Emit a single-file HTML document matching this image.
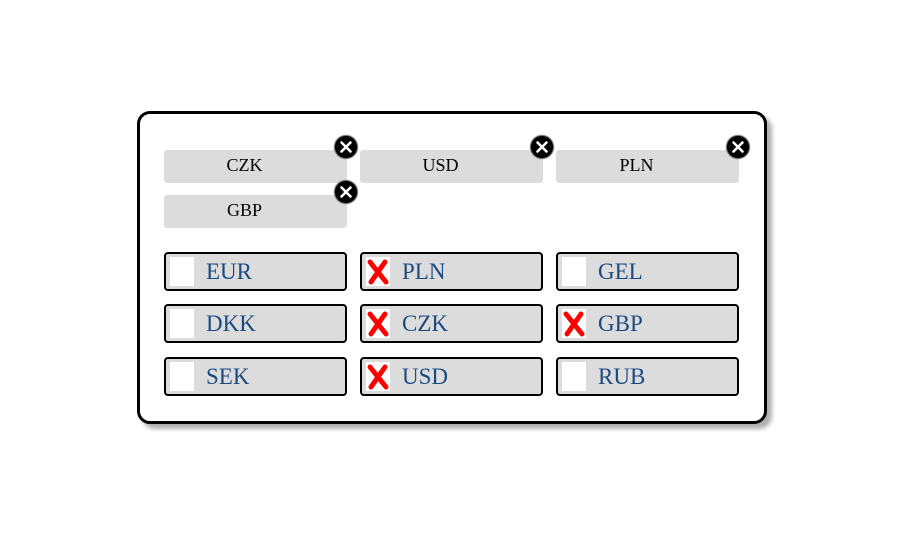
<!DOCTYPE html>
<html><head><meta charset="utf-8"><style>
html,body{margin:0;padding:0;background:#fff;width:916px;height:546px;overflow:hidden;position:relative;font-family:"Liberation Serif",serif}
.panel{position:absolute;left:137px;top:111px;width:624px;height:307px;border:3px solid #000;border-radius:13px;background:#fff;box-shadow:5px 5px 4px #b0b0b0}
.tag{position:absolute;width:161px;padding-right:22px;height:33px;background:#dcdcdc;border-radius:3px;text-align:center;line-height:31px;font-size:18px;color:#000}
.cl{position:absolute;width:22px;height:22px;border-radius:50%;background:#000;box-shadow:0 0 1px 1px #555}
.cl svg{position:absolute;left:0;top:0}
.cb{position:absolute;width:179px;height:35px;border:2px solid #000;border-radius:4px;background:#dcdcdc}
.cb .bx{position:absolute;left:4px;top:3px;width:24px;height:29px;background:#fff}
.cb .bx svg{position:absolute;left:0;top:2px}
.cb span{position:absolute;left:40px;top:4px;font-size:23px;line-height:28px;color:#1a4a80}
</style></head><body>
<div class="panel"></div>

<div class="tag" style="left:164px;top:150px">CZK</div>
<div class="tag" style="left:360px;top:150px">USD</div>
<div class="tag" style="left:556px;top:150px">PLN</div>
<div class="tag" style="left:164px;top:195px">GBP</div>

<div class="cl" style="left:335px;top:136px"><svg width="22" height="22"><path d="M6.5 6.5L15.5 15.5M15.5 6.5L6.5 15.5" stroke="#fff" stroke-width="2.6" stroke-linecap="round"/></svg></div>
<div class="cl" style="left:531px;top:136px"><svg width="22" height="22"><path d="M6.5 6.5L15.5 15.5M15.5 6.5L6.5 15.5" stroke="#fff" stroke-width="2.6" stroke-linecap="round"/></svg></div>
<div class="cl" style="left:727px;top:136px"><svg width="22" height="22"><path d="M6.5 6.5L15.5 15.5M15.5 6.5L6.5 15.5" stroke="#fff" stroke-width="2.6" stroke-linecap="round"/></svg></div>
<div class="cl" style="left:335px;top:181px"><svg width="22" height="22"><path d="M6.5 6.5L15.5 15.5M15.5 6.5L6.5 15.5" stroke="#fff" stroke-width="2.6" stroke-linecap="round"/></svg></div>

<div class="cb" style="left:164px;top:252px"><div class="bx"></div><span>EUR</span></div>
<div class="cb" style="left:360px;top:252px"><div class="bx"><svg width="24" height="26"><path d="M4 3L20 23M19 3L5 23" stroke="#f00" stroke-width="5" stroke-linecap="round"/></svg></div><span>PLN</span></div>
<div class="cb" style="left:556px;top:252px"><div class="bx"></div><span>GEL</span></div>

<div class="cb" style="left:164px;top:304px"><div class="bx"></div><span>DKK</span></div>
<div class="cb" style="left:360px;top:304px"><div class="bx"><svg width="24" height="26"><path d="M4 3L20 23M19 3L5 23" stroke="#f00" stroke-width="5" stroke-linecap="round"/></svg></div><span>CZK</span></div>
<div class="cb" style="left:556px;top:304px"><div class="bx"><svg width="24" height="26"><path d="M4 3L20 23M19 3L5 23" stroke="#f00" stroke-width="5" stroke-linecap="round"/></svg></div><span>GBP</span></div>

<div class="cb" style="left:164px;top:357px"><div class="bx"></div><span>SEK</span></div>
<div class="cb" style="left:360px;top:357px"><div class="bx"><svg width="24" height="26"><path d="M4 3L20 23M19 3L5 23" stroke="#f00" stroke-width="5" stroke-linecap="round"/></svg></div><span>USD</span></div>
<div class="cb" style="left:556px;top:357px"><div class="bx"></div><span>RUB</span></div>
</body></html>
